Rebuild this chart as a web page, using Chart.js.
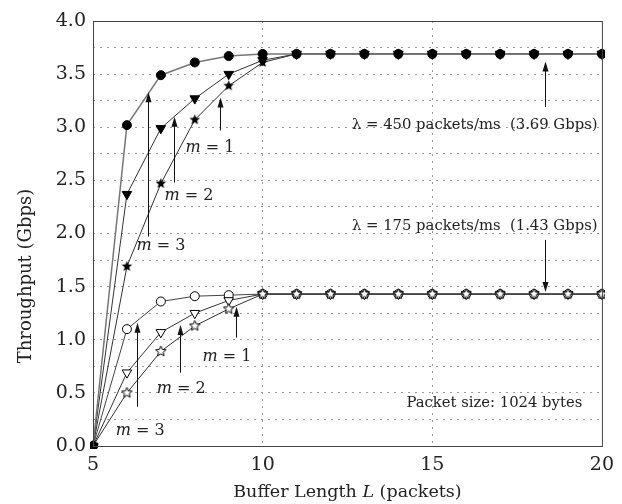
<!DOCTYPE html>
<html>
<head>
<meta charset="utf-8">
<script src="https://cdn.jsdelivr.net/npm/chart.js@4.4.1/dist/chart.umd.min.js"></script>
<style>
  html, body { margin: 0; padding: 0; background: #fff; }
  #wrap { width: 622px; height: 504px; position: relative; }
</style>
</head>
<body>
<div id="wrap"><canvas id="chart"></canvas></div>
<script>
// buffer length L (packets)
const bufferLength = [5, 6, 7, 8, 9, 10, 11, 12, 13, 14, 15, 16, 17, 18, 19, 20];

// lambda = 450 packets/ms
const high_m1 = [0, 3.02, 3.49, 3.61, 3.67, 3.69, 3.69, 3.69, 3.69, 3.69, 3.69, 3.69, 3.69, 3.69, 3.69, 3.69];
const high_m2 = [0, 2.37, 2.99, 3.27, 3.50, 3.63, 3.69, 3.69, 3.69, 3.69, 3.69, 3.69, 3.69, 3.69, 3.69, 3.69];
const high_m3 = [0, 1.69, 2.47, 3.07, 3.39, 3.61, 3.69, 3.69, 3.69, 3.69, 3.69, 3.69, 3.69, 3.69, 3.69, 3.69];

// lambda = 175 packets/ms
const low_m1 = [0, 1.10, 1.36, 1.41, 1.42, 1.43, 1.43, 1.43, 1.43, 1.43, 1.43, 1.43, 1.43, 1.43, 1.43, 1.43];
const low_m2 = [0, 0.69, 1.07, 1.25, 1.37, 1.43, 1.43, 1.43, 1.43, 1.43, 1.43, 1.43, 1.43, 1.43, 1.43, 1.43];
const low_m3 = [0, 0.50, 0.89, 1.13, 1.29, 1.43, 1.43, 1.43, 1.43, 1.43, 1.43, 1.43, 1.43, 1.43, 1.43, 1.43];

const yTicks = [0, 0.5, 1, 1.5, 2, 2.5, 3, 3.5, 4];
const xTicks = [5, 10, 15, 20];

// arrows: x, tail y, head y (data units)
const arrows = [
  { x: 6.62, from: 1.97, to: 3.33 },
  { x: 7.39, from: 2.48, to: 3.10 },
  { x: 8.75, from: 2.97, to: 3.28 },
  { x: 6.30, from: 0.37, to: 1.16 },
  { x: 7.57, from: 0.69, to: 1.14 },
  { x: 9.22, from: 1.02, to: 1.31 },
  { x: 18.33, from: 3.19, to: 3.62 },
  { x: 18.33, from: 1.94, to: 1.45 },
];
// m labels: m value, center x, center y
const mLabels = [
  { m: 3, x: 7.0, y: 1.88 },
  { m: 2, x: 7.83, y: 2.35 },
  { m: 1, x: 8.45, y: 2.81 },
  { m: 3, x: 6.39, y: 0.14 },
  { m: 2, x: 7.60, y: 0.54 },
  { m: 1, x: 8.95, y: 0.84 },
];
const notes = [
  { text: 'λ = 450 packets/ms  (3.69 Gbps)', x: 19.87, y: 3.02 },
  { text: 'λ = 175 packets/ms  (1.43 Gbps)', x: 19.87, y: 2.07 },
  { text: 'Packet size: 1024 bytes', x: 19.42, y: 0.40 },
];

const SERIF = '"DejaVu Serif", "Liberation Serif", serif';
const INK = '#222';

function makeStar(filled, size) {
  const c = document.createElement('canvas');
  c.width = size; c.height = size;
  const g = c.getContext('2d');
  const cx = size / 2, cy = size / 2, ro = size / 2 - 1, ri = ro * 0.45;
  g.beginPath();
  for (let i = 0; i < 10; i++) {
    const r = i % 2 === 0 ? ro : ri;
    const a = -Math.PI / 2 + i * Math.PI / 5;
    const px = cx + r * Math.cos(a), py = cy + r * Math.sin(a);
    if (i === 0) g.moveTo(px, py); else g.lineTo(px, py);
  }
  g.closePath();
  if (filled) { g.fillStyle = '#000'; g.fill(); }
  else { g.fillStyle = '#fff'; g.fill(); g.lineWidth = 1; g.strokeStyle = '#000'; g.stroke(); }
  return c;
}

function pts(ys) {
  return bufferLength.map((x, i) => ({ x: x, y: ys[i] }));
}

function series(label, ys, opts) {
  return Object.assign({
    label: label,
    data: pts(ys),
    borderColor: '#333',
    borderWidth: 1,
    pointBorderColor: '#000',
    pointBorderWidth: 1,
    tension: 0,
    clip: 3,
  }, opts);
}

const annotatePlugin = {
  id: 'annotate',
  afterDatasetsDraw(chart) {
    const ctx = chart.ctx;
    const xs = chart.scales.x, ys = chart.scales.y;
    const a = chart.chartArea;
    ctx.save();
    // frame
    ctx.strokeStyle = '#444';
    ctx.lineWidth = 1;
    ctx.strokeRect(a.left + 0.5, a.top + 0.5, a.right - a.left, a.bottom - a.top);

    // arrows
    ctx.strokeStyle = '#111';
    ctx.fillStyle = '#111';
    arrows.forEach((ar) => {
      const px = Math.round(xs.getPixelForValue(ar.x)) + 0.5;
      const y0 = ys.getPixelForValue(ar.from);
      const y1 = ys.getPixelForValue(ar.to);
      const dir = y1 < y0 ? 1 : -1;
      ctx.beginPath();
      ctx.moveTo(px, y0);
      ctx.lineTo(px, y1 + dir * 8);
      ctx.stroke();
      ctx.beginPath();
      ctx.moveTo(px, y1);
      ctx.lineTo(px - 3, y1 + dir * 10);
      ctx.lineTo(px + 3, y1 + dir * 10);
      ctx.closePath();
      ctx.fill();
    });

    // m labels
    ctx.fillStyle = INK;
    ctx.textBaseline = 'middle';
    mLabels.forEach((l) => {
      const cx = xs.getPixelForValue(l.x);
      const cy = ys.getPixelForValue(l.y);
      const italic = 'italic 16px ' + SERIF;
      const normal = '16px ' + SERIF;
      ctx.font = italic;
      const w1 = ctx.measureText('m').width;
      ctx.font = normal;
      const rest = ' = ' + l.m;
      const w2 = ctx.measureText(rest).width;
      const left = cx - (w1 + w2) / 2;
      ctx.textAlign = 'left';
      ctx.font = italic;
      ctx.fillText('m', left, cy);
      ctx.font = normal;
      ctx.fillText(rest, left + w1, cy);
    });

    // notes
    ctx.font = '14.8px ' + SERIF;
    ctx.textAlign = 'right';
    notes.forEach((n) => {
      ctx.fillText(n.text, xs.getPixelForValue(n.x), ys.getPixelForValue(n.y));
    });

    // axis titles
    const F = '17.5px ' + SERIF, FI = 'italic 17.5px ' + SERIF;
    ctx.font = F;
    const t1 = 'Buffer Length ', t2 = 'L', t3 = ' (packets)';
    const w1 = ctx.measureText(t1).width, w3 = ctx.measureText(t3).width;
    ctx.font = FI;
    const w2 = ctx.measureText(t2).width;
    const lx = (a.left + a.right) / 2 - (w1 + w2 + w3) / 2;
    const ty = 492;
    ctx.textAlign = 'left';
    ctx.font = F;
    ctx.fillText(t1, lx, ty);
    ctx.font = FI;
    ctx.fillText(t2, lx + w1, ty);
    ctx.font = F;
    ctx.fillText(t3, lx + w1 + w2, ty);

    ctx.font = '18px ' + SERIF;
    ctx.translate(26, 276);
    ctx.rotate(-Math.PI / 2);
    ctx.textAlign = 'center';
    ctx.fillText('Throughput (Gbps)', 0, 0);
    ctx.restore();
  },
};

const gridDash = { color: '#999', lineWidth: 1, drawTicks: false };

new Chart(document.getElementById('chart'), {
  type: 'line',
  data: {
    datasets: [
      series('450 m=1', high_m1, { order: 1, borderColor: '#777', borderWidth: 1.5, pointStyle: 'circle', pointRadius: 4.5, pointBackgroundColor: '#000' }),
      series('450 m=2', high_m2, { order: 2, pointStyle: 'triangle', rotation: 180, pointRadius: 5.5, pointBackgroundColor: '#000' }),
      series('450 m=3', high_m3, { order: 3, pointStyle: makeStar(true, 13), pointBackgroundColor: '#000' }),
      series('175 m=1', low_m1, { order: 6, borderColor: '#444', pointStyle: 'circle', pointRadius: 4.5, pointBackgroundColor: '#fff' }),
      series('175 m=2', low_m2, { order: 5, pointStyle: 'triangle', rotation: 180, pointRadius: 5.5, pointBackgroundColor: '#fff' }),
      series('175 m=3', low_m3, { order: 4, pointStyle: makeStar(false, 13), pointBackgroundColor: '#fff' }),
    ],
  },
  options: {
    responsive: true,
    maintainAspectRatio: false,
    animation: false,
    events: [],
    layout: { padding: { left: 0, right: 20, top: 21, bottom: 0 } },
    plugins: { legend: { display: false }, tooltip: { enabled: false } },
    scales: {
      x: {
        type: 'linear',
        min: 5,
        max: 20,
        afterFit: (s) => { s.height = 58; },
        afterBuildTicks: (s) => { s.ticks = xTicks.map((v) => ({ value: v })); },
        ticks: { padding: 8, color: INK, font: { family: SERIF, size: 19 }, callback: (v) => String(v) },
        grid: Object.assign({}, gridDash, {
          color: (c) => (c.tick && (c.tick.value === 10 || c.tick.value === 15) ? '#999' : 'rgba(0,0,0,0)'),
        }),
        border: { display: false, dash: [2, 5] },
      },
      y: {
        min: 0,
        max: 4,
        afterFit: (s) => { s.width = 93; },
        ticks: {
          stepSize: 0.25,
          padding: 7,
          autoSkip: false,
          color: INK,
          font: { family: SERIF, size: 19 },
          callback: (v) => (yTicks.some((t) => Math.abs(t - v) < 1e-6) ? v.toFixed(1) : ''),
        },
        grid: gridDash,
        border: { display: false, dash: [2, 5] },
      },
    },
  },
  plugins: [annotatePlugin],
});
</script>
</body>
</html>
